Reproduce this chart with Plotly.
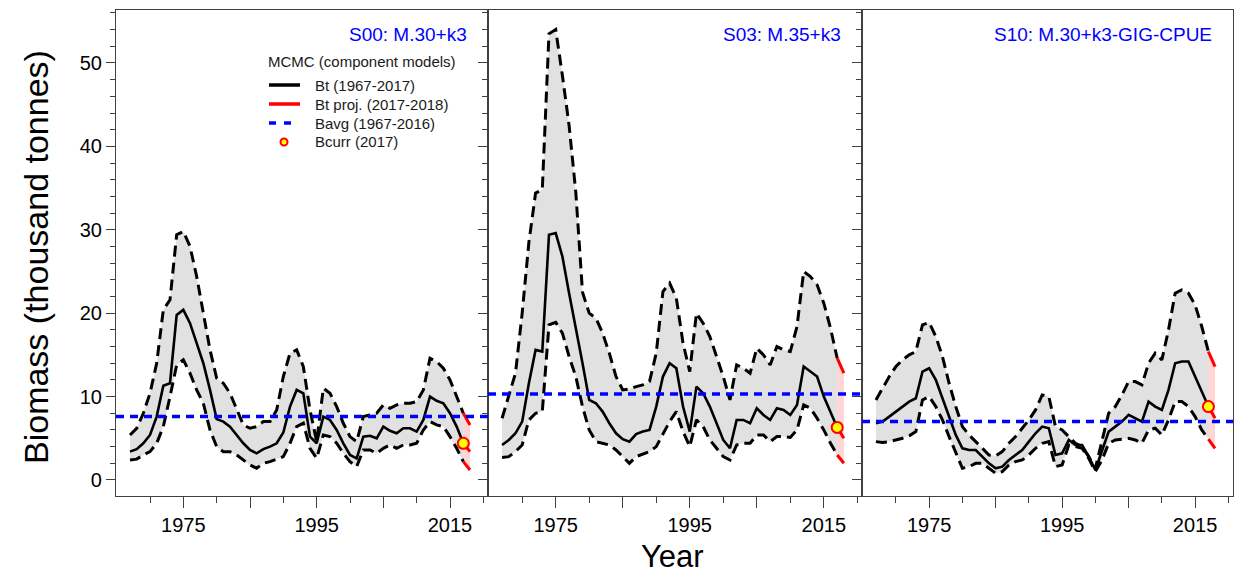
import plotly.graph_objects as go

years = list(range(1967, 2018))
proj_years = [2017, 2018]
panel_labels = ["S00: M.30+k3", "S03: M.35+k3", "S10: M.30+k3-GIG-CPUE"]
legend_title = "MCMC (component models)"
legend_labels = ["Bt (1967-2017)", "Bt proj. (2017-2018)", "Bavg (1967-2016)", "Bcurr (2017)"]

s00_med = [3.4, 3.7, 4.4, 5.4, 7.6, 11.3, 11.6, 19.8, 20.4, 18.8,
           16.4, 14.0, 10.8, 7.3, 7.0, 6.4, 5.4, 4.4, 3.6, 3.2,
           3.7, 4.0, 4.4, 5.7, 8.8, 10.8, 10.4, 5.2, 4.4, 7.6,
           7.2, 6.0, 4.4, 3.0, 2.6, 5.2, 5.3, 5.0, 6.4, 5.9,
           5.6, 6.2, 6.2, 5.8, 7.2, 10.0, 9.5, 9.2, 8.0, 6.4, 4.4]
s00_hi = [5.4, 6.2, 8.0, 10.4, 14.0, 20.4, 21.6, 29.4, 29.8, 28.0,
          24.4, 20.0, 15.6, 12.2, 11.6, 10.4, 8.4, 6.6, 6.2, 6.4,
          7.0, 7.0, 8.4, 12.4, 15.2, 15.6, 13.6, 8.4, 4.6, 11.0,
          10.4, 8.8, 6.8, 5.2, 4.6, 7.6, 7.8, 8.0, 9.0, 8.6,
          9.0, 9.2, 9.2, 9.4, 10.8, 14.6, 14.2, 13.4, 12.0, 10.0, 8.0]
s00_lo = [2.4, 2.5, 3.0, 3.4, 4.4, 6.4, 10.0, 13.8, 14.4, 12.8,
          10.8, 9.2, 6.0, 4.0, 3.4, 3.4, 3.0, 2.4, 1.8, 1.4,
          2.0, 2.2, 2.5, 2.8, 4.4, 6.4, 6.8, 3.8, 2.6, 5.4,
          5.2, 4.4, 3.2, 2.2, 1.6, 3.6, 3.6, 3.2, 3.8, 4.2,
          3.8, 4.2, 4.2, 4.4, 6.0, 7.0, 6.6, 6.4, 5.2, 3.8, 2.2]
s00_proj = {"med": 3.4, "hi": 6.6, "lo": 1.2}

s03_med = [4.2, 4.8, 5.6, 7.0, 11.6, 15.6, 15.4, 29.4, 29.6, 26.8,
           22.4, 18.4, 14.0, 9.6, 9.2, 8.2, 6.8, 5.6, 4.9, 4.6,
           5.5, 5.8, 6.0, 8.8, 12.4, 14.0, 13.4, 8.8, 5.8, 11.2,
           10.4, 8.8, 6.8, 4.8, 3.8, 7.2, 7.2, 6.8, 8.6, 7.8,
           7.2, 8.6, 8.4, 7.8, 9.0, 13.6, 13.0, 12.4, 10.0, 8.2, 6.3]
s03_hi = [7.4, 10.0, 12.8, 20.0, 28.5, 34.4, 34.8, 53.5, 54.0, 48.5,
          42.5, 34.5, 22.5, 20.0, 19.4, 17.6, 15.2, 12.4, 10.8, 10.9,
          11.2, 11.4, 11.8, 15.2, 22.6, 23.6, 21.8, 16.4, 13.0, 20.0,
          18.8, 17.2, 14.8, 12.4, 9.6, 13.8, 13.4, 12.8, 15.8, 15.0,
          13.8, 16.0, 15.6, 15.4, 18.4, 25.0, 24.4, 23.4, 21.2, 18.2, 14.6]
s03_lo = [2.7, 2.8, 3.4, 4.2, 7.2, 8.0, 8.2, 18.6, 18.9, 17.6,
          14.8, 12.4, 8.8, 6.0, 4.6, 4.4, 4.2, 3.6, 2.8, 2.0,
          2.8, 3.1, 3.4, 4.0, 5.6, 7.0, 8.2, 5.8, 4.0, 7.2,
          6.4, 4.8, 3.8, 2.8, 2.4, 4.2, 4.4, 4.4, 5.4, 5.4,
          4.6, 5.2, 5.2, 5.1, 6.0, 9.0, 8.6, 7.4, 6.0, 4.4, 3.0]
s03_proj = {"med": 5.0, "hi": 12.8, "lo": 2.0}

s10_med = [6.8, 7.0, 7.6, 8.2, 8.8, 9.4, 9.8, 13.0, 13.4, 12.0,
           9.8, 7.6, 5.4, 3.8, 3.6, 3.6, 2.8, 2.0, 1.4, 1.6,
           2.4, 3.0, 3.6, 4.6, 5.6, 6.4, 6.2, 3.0, 3.2, 4.8,
           4.2, 4.2, 2.8, 1.2, 3.6, 5.8, 6.4, 7.0, 7.8, 7.4,
           7.0, 9.4, 8.8, 8.4, 10.8, 14.0, 14.2, 14.2, 12.4, 10.6, 8.8]
s10_hi = [9.6, 11.0, 12.4, 13.6, 14.4, 15.0, 15.4, 18.6, 18.9, 17.2,
          14.8, 11.6, 8.8, 6.4, 5.4, 4.6, 3.8, 3.0, 2.9, 3.4,
          4.4, 5.2, 6.2, 7.2, 8.4, 10.2, 10.0, 6.4, 6.0, 5.2,
          4.4, 4.0, 2.8, 1.4, 4.8, 8.0, 8.8, 10.2, 11.8, 11.8,
          11.4, 14.0, 15.2, 14.4, 18.0, 22.4, 22.8, 22.4, 21.0, 18.4, 15.4]
s10_lo = [4.6, 4.5, 4.6, 4.8, 5.0, 5.3, 5.8, 9.6, 10.0, 8.8,
          7.2, 5.2, 3.2, 1.4, 1.6, 2.0, 2.0, 1.4, 0.8, 1.0,
          1.8, 2.2, 2.4, 3.0, 3.8, 4.4, 4.6, 1.6, 1.8, 4.2,
          4.0, 3.8, 2.6, 1.0, 2.4, 4.4, 4.8, 4.9, 5.0, 4.8,
          4.4, 6.0, 6.2, 5.4, 7.2, 9.4, 9.4, 8.8, 7.6, 6.0, 4.9]
s10_proj = {"med": 7.4, "hi": 13.6, "lo": 3.8}

bavg = [7.6, 10.3, 7.0]

panels = [
    (s00_med, s00_hi, s00_lo, s00_proj),
    (s03_med, s03_hi, s03_lo, s03_proj),
    (s10_med, s10_hi, s10_lo, s10_proj),
]

FONT = "Liberation Sans, Arial, sans-serif"
W, H = 1236, 574
domains = [(116 / W, 488 / W), (488 / W, 862 / W), (862 / W, 1233 / W)]
ydom = (78 / H, 564 / H)
AX = "#404040"

fig = go.Figure()

for i, (med, hi, lo, pr) in enumerate(panels):
    xa = "x" if i == 0 else f"x{i+1}"
    ya = "y" if i == 0 else f"y{i+1}"
    # gray credible band
    fig.add_trace(go.Scatter(x=years, y=hi, xaxis=xa, yaxis=ya, mode="lines",
                             line=dict(width=0, color="rgba(0,0,0,0)"), showlegend=False, hoverinfo="skip"))
    fig.add_trace(go.Scatter(x=years, y=lo, xaxis=xa, yaxis=ya, mode="lines", fill="tonexty",
                             fillcolor="#e1e1e1", line=dict(width=0, color="rgba(0,0,0,0)"),
                             showlegend=False, hoverinfo="skip"))
    # pink projection band
    fig.add_trace(go.Scatter(x=proj_years, y=[hi[-1], pr["hi"]], xaxis=xa, yaxis=ya, mode="lines",
                             line=dict(width=0, color="rgba(0,0,0,0)"), showlegend=False, hoverinfo="skip"))
    fig.add_trace(go.Scatter(x=proj_years, y=[lo[-1], pr["lo"]], xaxis=xa, yaxis=ya, mode="lines",
                             fill="tonexty", fillcolor="rgba(255,120,120,0.3)",
                             line=dict(width=0, color="rgba(0,0,0,0)"), showlegend=False, hoverinfo="skip"))
    # dashed bounds
    for arr in (hi, lo):
        fig.add_trace(go.Scatter(x=years, y=arr, xaxis=xa, yaxis=ya, mode="lines",
                                 line=dict(color="black", width=3, dash="11px,6px"),
                                 showlegend=False, hoverinfo="skip"))
    # median
    fig.add_trace(go.Scatter(x=years, y=med, xaxis=xa, yaxis=ya, mode="lines",
                             line=dict(color="black", width=2.6), showlegend=False))
    # projections
    for key, arr in (("med", med), ("hi", hi), ("lo", lo)):
        fig.add_trace(go.Scatter(x=proj_years, y=[arr[-1], pr[key]], xaxis=xa, yaxis=ya, mode="lines",
                                 line=dict(color="red", width=3), showlegend=False, hoverinfo="skip"))
    # Bavg line
    fig.add_shape(type="line", xref=f"{xa} domain", yref=ya, x0=0, x1=1, y0=bavg[i], y1=bavg[i],
                  line=dict(color="blue", width=3.5, dash="8px,6px"), layer="above")
    # Bcurr point
    fig.add_trace(go.Scatter(x=[years[-1]], y=[med[-1]], xaxis=xa, yaxis=ya, mode="markers",
                             marker=dict(color="yellow", size=11, line=dict(color="red", width=2)),
                             showlegend=False))
    # panel label
    fig.add_annotation(text=panel_labels[i], xref=f"{xa} domain", yref=f"{ya} domain",
                       x=0.949, y=0.949, xanchor="right", yanchor="middle", showarrow=False,
                       font=dict(family=FONT, size=19, color="blue"))

# manual legend (panel 1)
LT = "#1a1a1a"
fig.add_annotation(text=legend_title, xref="paper", yref="paper", x=266 / W, y=1 - 61 / H,
                   xanchor="left", yanchor="middle", showarrow=False,
                   font=dict(family=FONT, size=15, color=LT))
row_y = [85, 104, 123, 142]
for lab, ry in zip(legend_labels, row_y):
    fig.add_annotation(text=lab, xref="paper", yref="paper", x=313 / W, y=1 - ry / H,
                       xanchor="left", yanchor="middle", showarrow=False,
                       font=dict(family=FONT, size=15, color=LT))
fig.add_shape(type="line", xref="paper", yref="paper", x0=269 / W, x1=300 / W,
              y0=1 - row_y[0] / H, y1=1 - row_y[0] / H, line=dict(color="black", width=3.5))
fig.add_shape(type="line", xref="paper", yref="paper", x0=269 / W, x1=300 / W,
              y0=1 - row_y[1] / H, y1=1 - row_y[1] / H, line=dict(color="red", width=3.5))
fig.add_shape(type="line", xref="paper", yref="paper", x0=269 / W, x1=292 / W,
              y0=1 - row_y[2] / H, y1=1 - row_y[2] / H, line=dict(color="blue", width=3.5, dash="7px,8px"))
fig.add_shape(type="circle", xref="paper", yref="paper", x0=280.5 / W, x1=287.5 / W,
              y0=1 - (row_y[3] + 3.5) / H, y1=1 - (row_y[3] - 3.5) / H,
              fillcolor="yellow", line=dict(color="red", width=2))

axis_line = dict(showline=True, linecolor=AX, linewidth=1.2, mirror=True,
                 showgrid=False, zeroline=False)
for i in range(3):
    sfx = "" if i == 0 else str(i + 1)
    fig.update_layout(**{
        f"xaxis{sfx}": dict(domain=list(domains[i]), range=[1964.9, 2020.7], anchor=f"y{sfx}",
                            tickmode="array", tickvals=[1975, 1985, 1995, 2005, 2015],
                            ticktext=["1975", "", "1995", "", "2015"],
                            ticks="outside", ticklen=11, tickcolor=AX, tickwidth=1.2,
                            minor=dict(tickmode="array", tickvals=[1970, 1980, 1990, 2000, 2010, 2020],
                                       ticks="outside", ticklen=6, tickcolor=AX, tickwidth=1.2),
                            tickfont=dict(family=FONT, size=20, color="black"), **axis_line),
        f"yaxis{sfx}": dict(domain=list(ydom), range=[-1.92, 56.35], anchor=f"x{sfx}",
                            tickmode="array", tickvals=[0, 10, 20, 30, 40, 50],
                            showticklabels=(i == 0),
                            ticks="outside", ticklen=9, tickcolor=AX, tickwidth=1.2,
                            minor=dict(tickmode="linear", tick0=0, dtick=2, ticks="outside",
                                       ticklen=5, tickcolor=AX, tickwidth=1.2),
                            tickfont=dict(family=FONT, size=20, color="black"), **axis_line),
    })

fig.add_annotation(text="Biomass (thousand tonnes)", xref="paper", yref="paper", x=36 / W,
                   y=1 - 257 / H, textangle=-90, showarrow=False, xanchor="center", yanchor="middle",
                   font=dict(family=FONT, size=34, color="black"))
fig.add_annotation(text="Year", xref="paper", yref="paper", x=672 / W, y=1 - 556 / H,
                   showarrow=False, xanchor="center", yanchor="middle",
                   font=dict(family=FONT, size=31, color="black"))

fig.update_layout(width=W, height=H, margin=dict(l=0, r=0, t=0, b=0),
                  paper_bgcolor="white", plot_bgcolor="white", showlegend=False)

fig.write_html("out.html")
